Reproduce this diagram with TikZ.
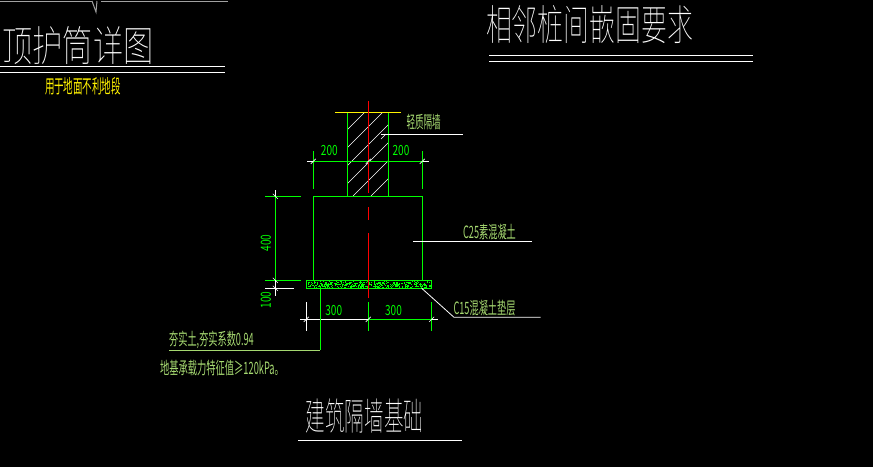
\documentclass[tikz,border=0pt]{standalone}
\usepackage{fontspec}
\newfontfamily\cjk{Noto Sans CJK SC}
\newfontfamily\cjkthin[UprightFont=* Thin]{Noto Sans CJK SC}
\definecolor{cadgreen}{HTML}{00FF00}
\definecolor{cadlabel}{HTML}{A5D870}
\definecolor{cadgray}{HTML}{A0A0A0}
\tikzset{
  outline/.style={cadgreen,line width=0.8pt},
  leader/.style={white,line width=0.8pt},
  centerline/.style={red,line width=1pt},
  bigtitle/.style={white,inner sep=0pt,font=\cjkthin\fontsize{42}{42}\selectfont,xscale=0.72},
  labeltext/.style={cadlabel,inner sep=0pt,font=\cjk\fontsize{17}{17}\selectfont,xscale=0.54},
  dimtext/.style={cadgreen,inner sep=0pt,font=\cjk\fontsize{14}{14}\selectfont,xscale=0.72}
}
\begin{document}
\begin{tikzpicture}[x=1pt,y=-1pt]
\useasboundingbox (0,0) rectangle (873,467);
\fill [black] (0,0) rectangle (873,467);
% top left title
\draw [cadgray,line width=1pt] (0,1) -- (92,1);
\draw [cadgray,line width=1pt] (101,1) -- (228,1);
\draw [cadgray,line width=1pt] (92,1) -- (96,12) -- (97,1);
\node [bigtitle] (titleleft) at (78,46) {顶护筒详图};
\draw [leader] (0,66.3) -- (225,66.3);
\draw [leader] (0,72.3) -- (225,72.3);
\node [yellow,inner sep=0pt,font=\cjk\fontsize{19}{19}\selectfont,xscale=0.5] (titlesub) at (83,86.5) {用于地面不利地段};
% top right title
\node [bigtitle,xscale=0.855] (titleright) at (589.5,24) {相邻桩间嵌固要求};
\draw [leader] (489,55) -- (752.6,55);
\draw [leader] (489,61.3) -- (752.6,61.3);
% wall
\begin{scope}
\clip (347.3,112.3) rectangle (388.3,196);
\foreach \i in {263,281,...,371}
  \draw [white,line width=0.6pt] (\i,196) -- ++(84,-84);
\end{scope}
\draw [outline] (347.3,112.3) -- (347.3,196);
\draw [outline] (388.3,112.3) -- (388.3,196);
\draw [yellow,line width=0.8pt] (335,112.3) -- (400.7,112.3);
% footing and cushion
\draw [outline] (313.3,196.3) rectangle (422.3,280.3);
\pgfmathsetseed{7}
\foreach \i in {1,...,420}
  \fill [cadgreen] ({307.5+rnd*123},{281.2+rnd*6}) rectangle ++(1,1);
\draw [outline] (306.3,280.3) rectangle (431.7,288.3);
% center line
\draw [centerline] (368.3,101) -- (368.3,193);
\draw [centerline] (368.3,207) -- (368.3,220);
\draw [centerline] (368.3,233) -- (368.3,297.5);
% dimension above
\draw [outline] (313.3,161.3) -- (422.3,161.3);
\draw [leader] (307,161.3) -- (313.3,161.3);
\draw [leader] (422.3,161.3) -- (428.7,161.3);
\draw [outline] (313.3,151) -- (313.3,188.7);
\draw [outline] (422.3,151) -- (422.3,188.7);
\node [dimtext] (dimwallleft) at (329.3,150.5) {200};
\node [dimtext] (dimwallright) at (401,150.5) {200};
% dimension left
\draw [outline] (265,196.3) -- (300.7,196.3);
\draw [outline] (265,280.3) -- (300.7,280.3);
\draw [leader] (265,288.3) -- (293.7,288.3);
\draw [outline] (275.3,196.3) -- (275.3,280.3);
\draw [leader] (275.3,190) -- (275.3,196.3);
\draw [leader] (275.3,280.3) -- (275.3,295.7);
\node [rotate=90,dimtext] (dimfooting) at (266,243) {400};
\node [rotate=90,dimtext] (dimcushion) at (266,300) {100};
% dimension below
\draw [leader] (300,319.3) -- (368.3,319.3);
\draw [outline] (368.3,319.3) -- (431.7,319.3);
\draw [leader] (431.7,319.3) -- (437.7,319.3);
\draw [leader] (306.3,302.3) -- (306.3,330.7);
\draw [outline] (368.3,302.3) -- (368.3,330.7);
\draw [outline] (431.7,302.3) -- (431.7,330.7);
\draw [outline] (320.3,288.3) -- (320.3,350);
\node [dimtext] (dimleft) at (333.7,310.5) {300};
\node [dimtext] (dimright) at (393.5,310.5) {300};
% ticks
\foreach \x/\y in {313.3/161.3,368.3/161.3,422.3/161.3,306.3/319.3,368.3/319.3,431.7/319.3,383.5/136.5}
  \draw [white,line width=0.6pt] (\x-2.5,\y+2.5) -- (\x+2.5,\y-2.5);
\foreach \x/\y in {275.3/196.3,275.3/280.3,275.3/288.3}
  \draw [white,line width=0.6pt] (\x-2.5,\y-2.5) -- (\x+2.5,\y+2.5);
% labels and leaders
\node [labeltext,xscale=0.93] (labelwall) at (423.7,122.5) {轻质隔墙};
\draw [leader] (381,134.3) -- (462.7,134.3);
\node [labeltext] (labelfooting) at (489.5,232) {C25素混凝土};
\draw [leader] (413,241.3) -- (531.7,241.3);
\node [labeltext] (labelcushion) at (484.5,308) {C15混凝土垫层};
\draw [leader] (421.7,288.3) -- (454,317.3) -- (540.7,317.3);
\draw [cadlabel,line width=0.8pt] (169,350) -- (320.3,350);
\node [labeltext] (labelsoil) at (211.5,340) {夯实土,夯实系数0.94};
\node [labeltext,xscale=1.01] (labelbearing) at (222,368) {地基承载力特征值≥120kPa。};
% bottom title
\node [bigtitle,font=\cjkthin\fontsize{38}{38}\selectfont,xscale=0.713] (titlebottom) at (364.5,416) {建筑隔墙基础};
\draw [leader] (298,440) -- (462,440);
\end{tikzpicture}
\end{document}
